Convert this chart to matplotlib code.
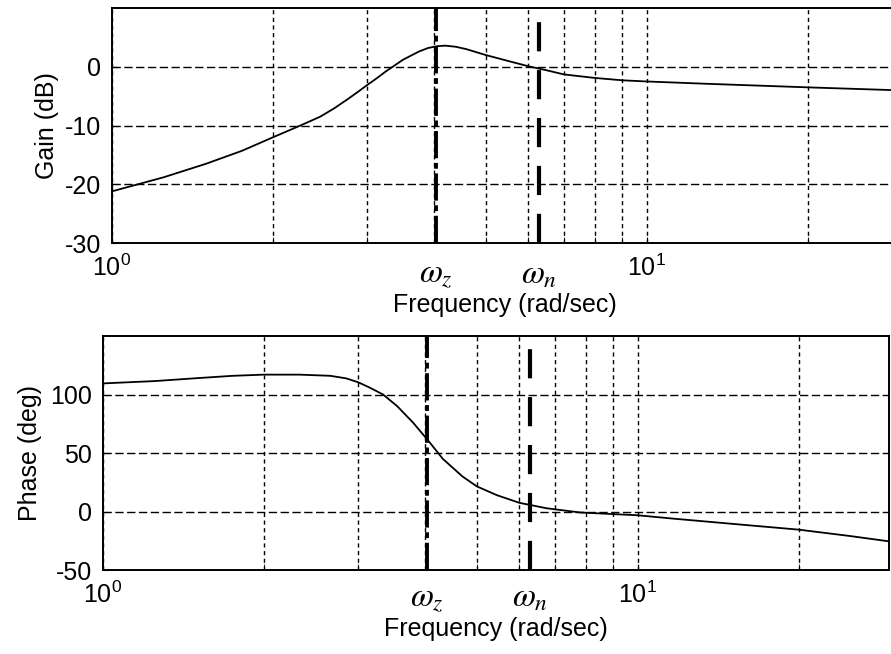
import numpy as np
import matplotlib
matplotlib.use('Agg')
import matplotlib.pyplot as plt

plt.rcParams['font.family'] = ['Liberation Sans', 'DejaVu Sans']
plt.rcParams['mathtext.fontset'] = 'stix'
plt.rcParams['axes.unicode_minus'] = False

# values
gain_freq = [1, 1.25, 1.5, 1.75, 2, 2.25, 2.45, 2.6, 2.75, 2.9, 3, 3.1, 3.25, 3.5,
             3.75, 3.9, 4.05, 4.2, 4.4, 4.6, 5, 5.5, 6, 6.5, 7, 8, 9, 10, 13, 20, 29.5]
gain_db = [-21.2, -18.8, -16.5, -14.3, -12.0, -10.0, -8.5, -7.1, -5.6, -4.1, -3.1,
           -2.2, -0.8, 1.2, 2.6, 3.2, 3.5, 3.6, 3.4, 3.0, 2.0, 1.0, 0.1, -0.6, -1.3,
           -1.9, -2.3, -2.5, -2.9, -3.5, -4.0]

phase_freq = [1, 1.25, 1.5, 1.75, 2, 2.33, 2.66, 2.85, 3, 3.15, 3.34, 3.55, 3.8,
              4.05, 4.32, 4.7, 5, 5.45, 6, 6.75, 7.8, 9, 10, 11.6, 15, 20, 25, 29.5]
phase_deg = [109.5, 111.5, 114, 116, 117, 117, 116, 113.8, 110.5, 106, 100, 90, 76,
             61, 45, 30, 21.5, 14, 7.5, 2.8, -0.8, -2.2, -3.2, -6, -10.5, -15.5,
             -21, -25.5]

w_z = 4.03
w_n = 6.3

gain_ticks = [-30, -20, -10, 0]
phase_ticks = [-50, 0, 50, 100]
minor_freqs = [2, 3, 4, 5, 6, 7, 8, 9, 20]


def style_axis(ax, yticks, ylim, xpad, wy):
    ax.set_xscale('log')
    ax.set_xlim(1, 29.5)
    ax.set_ylim(*ylim)
    ax.set_yticks(yticks)
    ax.set_xticks([1, 10])
    ax.set_xticklabels([r'$\mathdefault{10^{0}}$', r'$\mathdefault{10^{1}}$'])
    ax.set_xticks(minor_freqs, minor=True)
    ax.xaxis.set_minor_formatter(matplotlib.ticker.NullFormatter())
    ax.tick_params(axis='both', which='both', direction='in', length=4,
                   labelsize=18, pad=8, colors='black')
    ax.grid(True, axis='y', color='black', linewidth=1.0, linestyle=(0, (6, 2.5)))
    ax.grid(True, axis='x', which='both', color='black', linewidth=1.0,
            linestyle=(0, (3, 2.5)))
    for sp in ax.spines.values():
        sp.set_linewidth(1.4)
    ax.set_xlabel('Frequency (rad/sec)', fontsize=18, labelpad=xpad)
    # natural frequency markers
    ax.axvline(w_z, color='black', linewidth=2.8, dashes=(7, 1.2, 1.5, 1.2))
    ax.axvline(w_n, color='black', linewidth=3.0, dashes=(7, 4.5))
    tr = ax.get_xaxis_transform()
    ax.text(w_z, wy, r'$\omega_z$', transform=tr, ha='center', va='center',
            fontsize=24)
    ax.text(w_n, wy, r'$\omega_n$', transform=tr, ha='center', va='center',
            fontsize=24)


fig = plt.figure(figsize=(8.91, 6.54), dpi=100)
ax1 = fig.add_axes([0.1257, 0.6284, 0.8822, 0.3593])
ax2 = fig.add_axes([0.1156, 0.1284, 0.8822, 0.3578])

ax1.plot(gain_freq, gain_db, color='black', linewidth=1.3)
style_axis(ax1, gain_ticks, (-30, 10), 9, -0.135)
ax1.set_ylabel('Gain (dB)', fontsize=18, labelpad=4)

ax2.plot(phase_freq, phase_deg, color='black', linewidth=1.3)
style_axis(ax2, phase_ticks, (-50, 150), 7, -0.12)
ax2.set_ylabel('Phase (deg)', fontsize=18, labelpad=6)

fig.savefig('out.png', dpi=100)
